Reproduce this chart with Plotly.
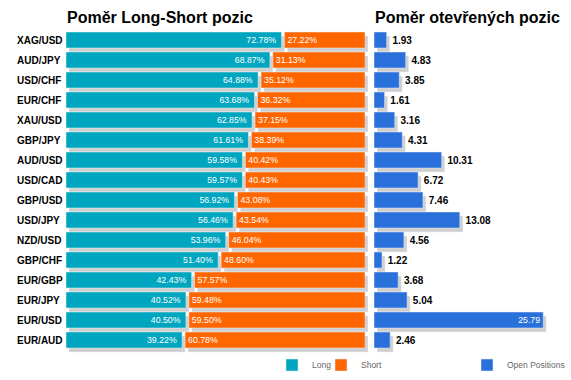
import plotly.graph_objects as go

W, H = 571, 380

pairs = ["XAG/USD", "AUD/JPY", "USD/CHF", "EUR/CHF", "XAU/USD", "GBP/JPY", "AUD/USD", "USD/CAD",
         "GBP/USD", "USD/JPY", "NZD/USD", "GBP/CHF", "EUR/GBP", "EUR/JPY", "EUR/USD", "EUR/AUD"]
long_pct = [72.78, 68.87, 64.88, 63.68, 62.85, 61.61, 59.58, 59.57, 56.92, 56.46, 53.96, 51.40, 42.43, 40.52, 40.50, 39.22]
short_pct = [27.22, 31.13, 35.12, 36.32, 37.15, 38.39, 40.42, 40.43, 43.08, 43.54, 46.04, 48.60, 57.57, 59.48, 59.50, 60.78]
open_pos = [1.93, 4.83, 3.85, 1.61, 3.16, 4.31, 10.31, 6.72, 7.46, 13.08, 4.56, 1.22, 3.68, 5.04, 25.79, 2.46]

title_left = "Poměr Long-Short pozic"
title_right = "Poměr otevřených pozic"

TEAL = "#00A6BF"
ORANGE = "#FF6600"
BLUE = "#2A70DA"
SHADOW = "#CFCFCF"
GAP = 1.0  # percent-units gap between long and short bars
FONT = "Liberation Sans, Arial"

def fx(p):
    return p / W

def fy(p):
    return 1 - p / H

short_base = [l + GAP for l in long_pct]

fig = go.Figure()

# shadows (drawn first, below)
fig.add_trace(go.Bar(y=pairs, x=long_pct, orientation="h", marker_color=SHADOW, width=0.8,
                     xaxis="x", yaxis="y", showlegend=False, hoverinfo="skip"))
fig.add_trace(go.Bar(y=pairs, x=short_pct, base=short_base, orientation="h", marker_color=SHADOW, width=0.8,
                     xaxis="x", yaxis="y", showlegend=False, hoverinfo="skip"))
fig.add_trace(go.Bar(y=pairs, x=open_pos, orientation="h", marker_color=SHADOW, width=0.8,
                     xaxis="x2", yaxis="y2", showlegend=False, hoverinfo="skip"))

# main bars
fig.add_trace(go.Bar(y=pairs, x=long_pct, orientation="h", name="Long", marker_color=TEAL, width=0.8,
                     xaxis="x3", yaxis="y3", legend="legend",
                     texttemplate="%{x:.2f}%\u00a0", textposition="inside", insidetextanchor="end",
                     insidetextfont=dict(color="white", size=10.5, family=FONT),
                     cliponaxis=False))
fig.add_trace(go.Bar(y=pairs, x=short_pct, base=short_base, orientation="h", name="Short", marker_color=ORANGE,
                     width=0.8, xaxis="x3", yaxis="y3", legend="legend2",
                     texttemplate="%{x:.2f}%", textposition="inside", insidetextanchor="start",
                     insidetextfont=dict(color="white", size=10.5, family=FONT),
                     cliponaxis=False))
open_textpos = ["inside" if v > 20 else "outside" for v in open_pos]
fig.add_trace(go.Bar(y=pairs, x=open_pos, orientation="h", name="Open Positions", marker_color=BLUE,
                     width=0.8, xaxis="x4", yaxis="y4", legend="legend3",
                     texttemplate="\u00a0%{x:.2f}", textposition=open_textpos, insidetextanchor="end",
                     insidetextfont=dict(color="white", size=10.5, family=FONT),
                     outsidetextfont=dict(color="black", size=10, family=FONT, weight="bold"),
                     cliponaxis=False))

sx, sy = 3, 4
L0, L1 = 66, 365
R0, R1 = 374, 561
T0, T1 = 30, 350
RMAX = 28.5

def xax(d, rng):
    return dict(domain=d, range=rng, visible=False, fixedrange=True)

def yax(d, anchor):
    return dict(domain=d, type="category", categoryarray=pairs, autorange="reversed",
                visible=False, anchor=anchor, fixedrange=True)

leg_font = dict(size=8.5, color="#666666", family=FONT)

fig.update_layout(
    width=W, height=H,
    margin=dict(l=0, r=0, t=0, b=0),
    paper_bgcolor="white", plot_bgcolor="rgba(0,0,0,0)",
    barmode="overlay",
    font=dict(family=FONT, color="black"),
    xaxis=dict(xax([fx(L0 + sx), fx(L1 + sx)], [0, 100 + GAP]), anchor="y"),
    yaxis=yax([fy(T1 + sy), fy(T0 + sy)], "x"),
    xaxis2=dict(xax([fx(R0 + sx), fx(R1 + sx)], [0, RMAX]), anchor="y2"),
    yaxis2=yax([fy(T1 + sy), fy(T0 + sy)], "x2"),
    xaxis3=dict(xax([fx(L0), fx(L1)], [0, 100 + GAP]), anchor="y3"),
    yaxis3=yax([fy(T1), fy(T0)], "x3"),
    xaxis4=dict(xax([fx(R0), fx(R1)], [0, RMAX]), anchor="y4"),
    yaxis4=yax([fy(T1), fy(T0)], "x4"),
    legend=dict(x=fx(272), y=fy(365), yanchor="middle", xanchor="left", orientation="h",
                font=leg_font, bgcolor="rgba(0,0,0,0)"),
    legend2=dict(x=fx(321), y=fy(365), yanchor="middle", xanchor="left", orientation="h",
                 font=leg_font, bgcolor="rgba(0,0,0,0)"),
    legend3=dict(x=fx(467), y=fy(365), yanchor="middle", xanchor="left", orientation="h",
                 font=leg_font, bgcolor="rgba(0,0,0,0)"),
    showlegend=True,
)

annotations = [
    dict(text="<b>" + title_left + "</b>", x=fx(L0 - 1), y=fy(17), xref="paper", yref="paper",
         xanchor="left", yanchor="middle", showarrow=False, font=dict(size=16, color="black")),
    dict(text="<b>" + title_right + "</b>", x=fx(R0 - 1), y=fy(17), xref="paper", yref="paper",
         xanchor="left", yanchor="middle", showarrow=False, font=dict(size=16, color="black")),
]
for p in pairs:
    annotations.append(dict(text="<b>" + p + "</b>", x=fx(15), y=p, xref="paper", yref="y3",
                            xanchor="left", yanchor="middle", showarrow=False,
                            font=dict(size=10, color="black")))
fig.update_layout(annotations=annotations)

fig.write_html("out.html", config={"displayModeBar": False},
               post_script="document.body.style.margin='0';document.body.style.overflow='hidden';")
